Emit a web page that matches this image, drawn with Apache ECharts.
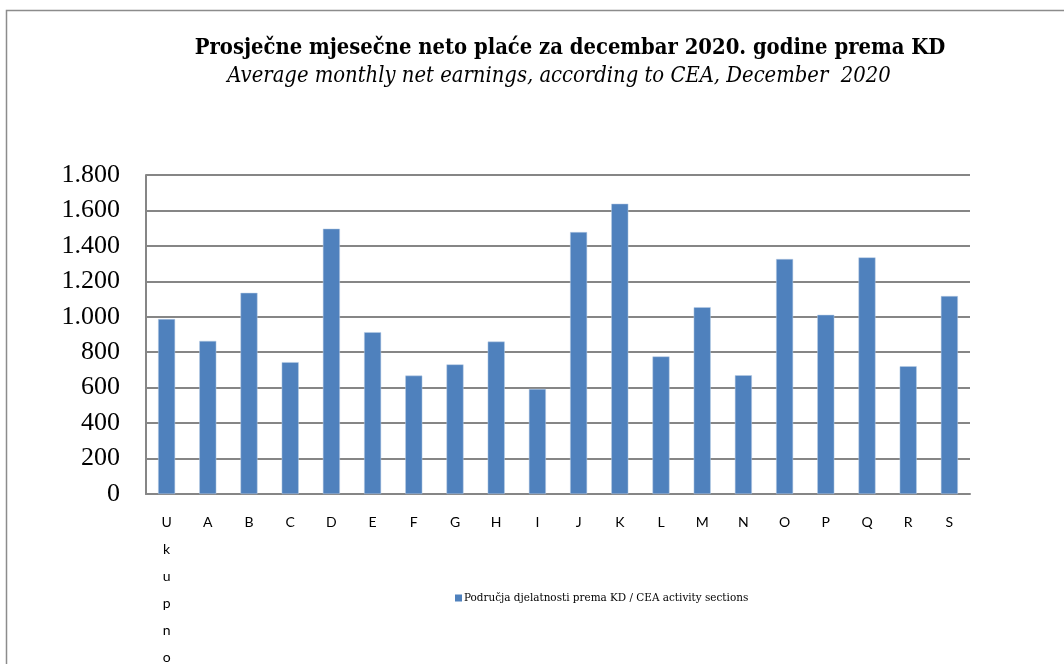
<!DOCTYPE html>
<html>
<head>
<meta charset="utf-8">
<script src="https://cdn.jsdelivr.net/npm/echarts@6/dist/echarts.min.js"></script>
<style>
  html, body { margin: 0; padding: 0; background: #fff; }
  #chart { width: 1064px; height: 664px; }
</style>
</head>
<body>
<div id="chart"></div>
<script>
const categories = ['Ukupno', 'A', 'B', 'C', 'D', 'E', 'F', 'G', 'H', 'I', 'J', 'K', 'L', 'M', 'N', 'O', 'P', 'Q', 'R', 'S'];
const earnings = [987, 864, 1135, 744, 1497, 913, 668, 731, 860, 593, 1478, 1638, 776, 1054, 670, 1326, 1011, 1335, 721, 1117];
const seriesName = 'Područja djelatnosti prema KD / CEA activity sections';
const titleText = 'Prosječne mjesečne neto plaće za decembar 2020. godine prema KD';
const subtitleText = 'Average monthly net earnings, according to CEA, December  2020';

const chart = echarts.init(document.getElementById('chart'));

chart.setOption({
  animation: false,
  title: [
    {
      text: titleText,
      left: 565,
      textAlign: 'center',
      top: 32,
      textStyle: {
        fontFamily: 'DejaVu Serif Condensed',
        fontWeight: 'bold',
        fontSize: 21.8,
        color: '#000',
      },
    },
    {
      text: subtitleText,
      left: 554,
      textAlign: 'center',
      top: 60,
      textStyle: {
        fontFamily: 'DejaVu Serif Condensed',
        fontStyle: 'italic',
        fontWeight: 'normal',
        fontSize: 21.8,
        color: '#000',
      },
    },
  ],
  graphic: [
    {
      type: 'rect',
      shape: { x: 6.5, y: 10.5, width: 1070, height: 680 },
      style: { fill: 'none', stroke: '#8c8c8c', lineWidth: 1.5 },
      silent: true,
    },
  ],
  legend: {
    data: [seriesName],
    left: 450,
    top: 587,
    icon: 'rect',
    itemWidth: 7,
    itemHeight: 7,
    itemGap: 2,
    itemStyle: { borderWidth: 0 },
    textStyle: {
      fontFamily: 'DejaVu Serif Condensed',
      fontSize: 11.6,
      color: '#000',
      padding: [0, 0, 0, -3],
    },
  },
  grid: {
    left: 146,
    right: 94,
    top: 175,
    bottom: 170,
    containLabel: false,
    outerBoundsMode: 'none',
  },
  xAxis: {
    type: 'category',
    data: categories,
    axisLine: { show: true, lineStyle: { color: '#868686', width: 2 } },
    axisTick: { show: false },
    axisLabel: {
      interval: 0,
      margin: 15,
      fontFamily: 'Lato',
      fontSize: 14,
      color: '#000',
      lineHeight: 27,
      verticalAlign: 'top',
      formatter: (v) => v.split('').join('\n'),
    },
  },
  yAxis: {
    type: 'value',
    min: 0,
    max: 1800,
    interval: 200,
    axisLine: { show: true, lineStyle: { color: '#868686', width: 2 } },
    axisTick: { show: false },
    splitLine: { lineStyle: { color: '#868686', width: 2 } },
    axisLabel: {
      margin: 26,
      fontFamily: 'Liberation Serif',
      fontSize: 26,
      color: '#000',
      formatter: (v) => String(v).replace(/\B(?=(\d{3})+(?!\d))/g, '.'),
    },
  },
  series: [
    {
      name: seriesName,
      type: 'bar',
      data: earnings,
      barWidth: 17,
      itemStyle: {
        color: '#4f81bd',
        borderColor: '#b9cde5',
        borderWidth: 0.5,
      },
    },
  ],
});
</script>
</body>
</html>
